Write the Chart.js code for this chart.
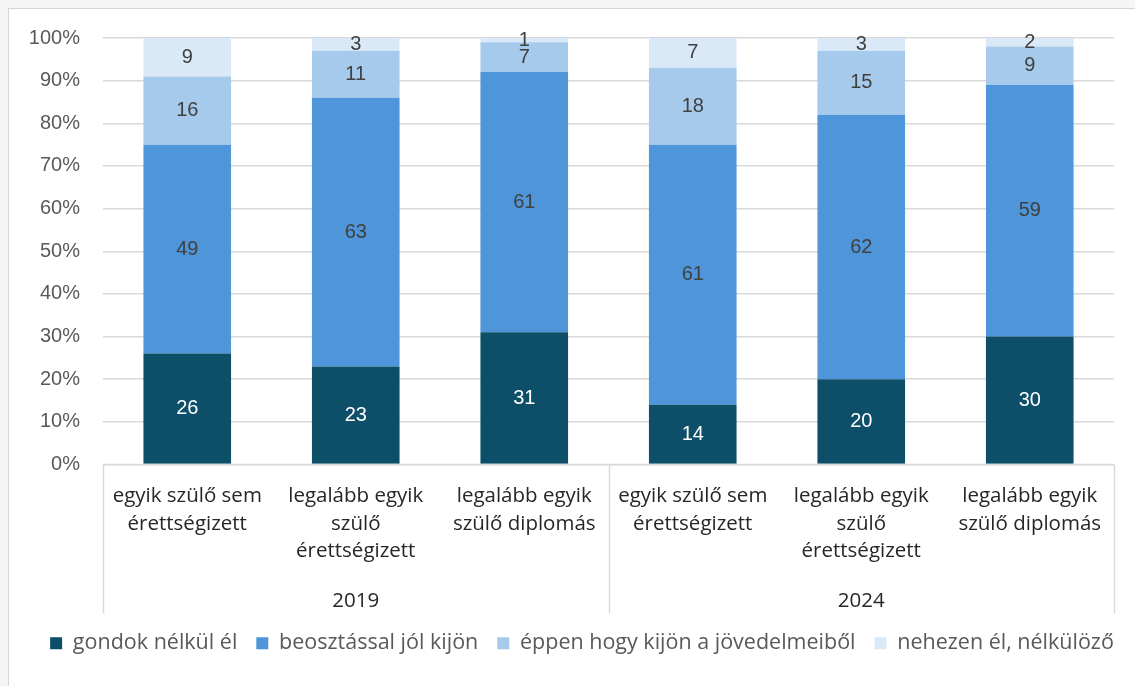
<!DOCTYPE html>
<html>
<head>
<meta charset="utf-8">
<script src="https://cdn.jsdelivr.net/npm/chart.js@4/dist/chart.umd.min.js"></script>
<style>
  html, body { margin: 0; padding: 0; background: #f5f5f5; overflow: hidden; }
  #frame {
    position: absolute; left: 8px; top: 8px; width: 1127px; height: 678px;
    border-left: 1px solid #d6d6d6; border-top: 1px solid #d6d6d6; background: #fff;
  }
  #chart { display: block; }
</style>
</head>
<body>
<div id="frame"><canvas id="chart" width="1126" height="677"></canvas></div>
<script>
// kategóriák (többsoros címkék) és évek
const categories = [
    ["egyik szülő sem", "érettségizett"],
    ["legalább egyik", "szülő", "érettségizett"],
    ["legalább egyik", "szülő diplomás"],
    ["egyik szülő sem", "érettségizett"],
    ["legalább egyik", "szülő", "érettségizett"],
    ["legalább egyik", "szülő diplomás"],
];
const groups = ["2019", "2024"];
const groupSize = 3;

const seriesNames = [
    "gondok nélkül él",
    "beosztással jól kijön",
    "éppen hogy kijön a jövedelmeiből",
    "nehezen él, nélkülöző",
];
const gondokNelkul = [26, 23, 31, 14, 20, 30];
const beosztassal = [49, 63, 61, 61, 62, 59];
const eppenHogy = [16, 11, 7, 18, 15, 9];
const nehezen = [9, 3, 1, 7, 3, 2];

const colors = ["#0D4E69", "#4E95D9", "#A6CAEC", "#DAE9F8"];
const labelColors = ["#ffffff", "#404040", "#404040", "#404040"];

const gridColor = "#d9d9d9";
const sansFont = "'Open Sans', 'Noto Sans', sans-serif";
const numFont = "'Liberation Sans', Arial, sans-serif";

// címkék a szegmensek közepére
const dataLabels = {
    id: "dataLabels",
    afterDatasetsDraw(chart) {
        const ctx = chart.ctx;
        ctx.save();
        ctx.font = "20px " + numFont;
        ctx.textAlign = "center";
        ctx.textBaseline = "middle";
        chart.data.datasets.forEach((ds, i) => {
            const meta = chart.getDatasetMeta(i);
            meta.data.forEach((bar, j) => {
                const y = (bar.y + bar.base) / 2;
                ctx.fillStyle = labelColors[i];
                ctx.fillText(ds.data[j], bar.x, y);
            });
        });
        ctx.restore();
    },
};

// kategóriatengely kerete és évcímkék
const groupAxis = {
    id: "groupAxis",
    afterDraw(chart) {
        const ctx = chart.ctx;
        const area = chart.chartArea;
        const xs = chart.scales.x;
        const catW = (area.right - area.left) / categories.length;
        const bottom = area.bottom + 149;
        ctx.save();
        ctx.strokeStyle = gridColor;
        ctx.lineWidth = 1.5;
        ctx.beginPath();
        ctx.moveTo(area.left, area.bottom);
        ctx.lineTo(area.right, area.bottom);
        for (let g = 0; g <= groups.length; g++) {
            const x = g < groups.length
                ? xs.getPixelForValue(g * groupSize) - catW / 2
                : area.right;
            ctx.moveTo(Math.round(x) + 0.5, area.bottom);
            ctx.lineTo(Math.round(x) + 0.5, bottom);
        }
        ctx.stroke();
        ctx.fillStyle = "#262626";
        ctx.font = "20.5px " + sansFont;
        ctx.textAlign = "center";
        ctx.textBaseline = "middle";
        groups.forEach((g, k) => {
            const x0 = xs.getPixelForValue(k * groupSize) - catW / 2;
            const x1 = xs.getPixelForValue(k * groupSize + groupSize - 1) + catW / 2;
            ctx.fillText(g, (x0 + x1) / 2, area.bottom + 137);
        });
        ctx.restore();
    },
};

const seriesData = [gondokNelkul, beosztassal, eppenHogy, nehezen];

new Chart(document.getElementById("chart").getContext("2d"), {
    type: "bar",
    data: {
        labels: categories,
        datasets: seriesNames.map((name, i) => ({
            label: name,
            data: seriesData[i],
            backgroundColor: colors[i],
            borderWidth: 0,
            barPercentage: 0.52,
            categoryPercentage: 1,
        })),
    },
    options: {
        responsive: false,
        animation: false,
        devicePixelRatio: 1,
        layout: { padding: { left: 20, right: 0, top: 29, bottom: 22 } },
        plugins: {
            legend: {
                display: true,
                position: "bottom",
                labels: {
                    boxWidth: 12,
                    boxHeight: 12,
                    padding: 19,
                    color: "#595959",
                    font: { size: 21.5, family: sansFont },
                },
            },
            tooltip: { enabled: false },
        },
        scales: {
            x: {
                stacked: true,
                grid: { display: false, drawTicks: false },
                border: { display: false },
                ticks: {
                    color: "#262626",
                    font: { size: 20.5, family: sansFont, lineHeight: "27.5px" },
                    padding: 18,
                    maxRotation: 0,
                    autoSkip: false,
                },
                afterFit(scale) {
                    scale.height = 149;
                },
            },
            y: {
                stacked: true,
                min: 0,
                max: 100,
                grid: {
                    color: gridColor,
                    lineWidth: 1.5,
                    drawTicks: true,
                    tickLength: 23,
                    tickColor: "rgba(0,0,0,0)",
                },
                border: { display: false },
                ticks: {
                    stepSize: 10,
                    padding: 0,
                    color: "#595959",
                    font: { size: 20, family: numFont },
                    callback: (v) => v + "%",
                },
                afterFit(scale) {
                    scale.width = 74;
                },
            },
            // üres jobb oldali sáv a rajzterület mellett
            yRight: {
                position: "right",
                min: 0,
                max: 100,
                grid: { display: false },
                border: { display: false },
                ticks: { display: false },
                afterFit(scale) {
                    scale.width = 21;
                },
            },
        },
    },
    plugins: [dataLabels, groupAxis],
});
</script>
</body>
</html>
